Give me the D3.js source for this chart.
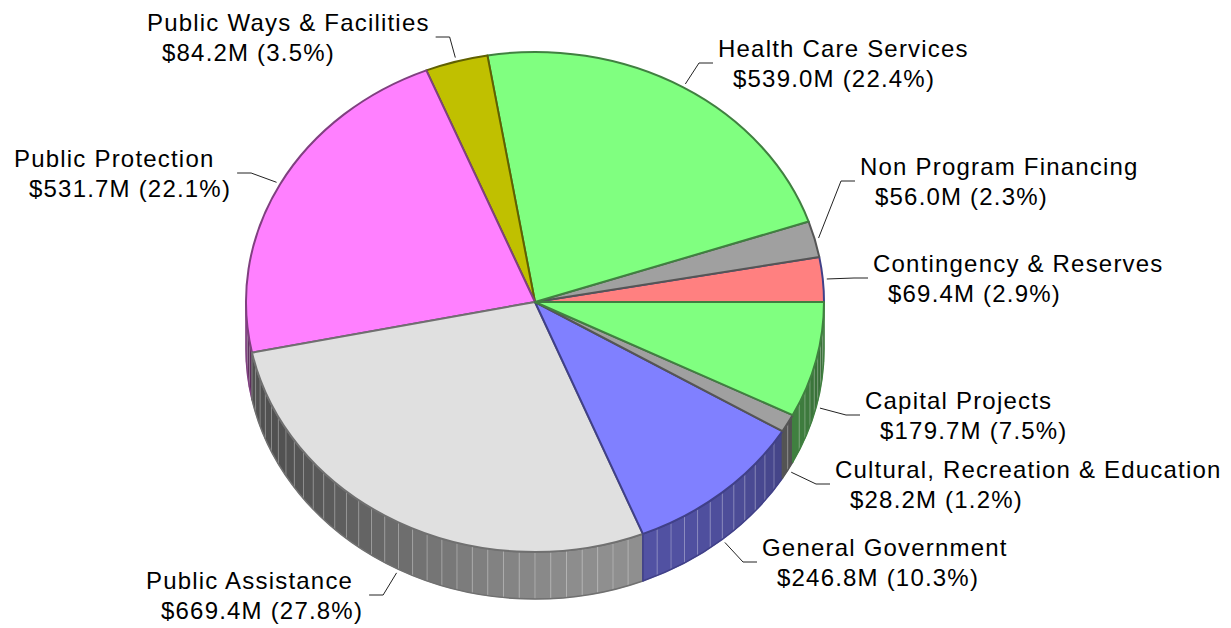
<!DOCTYPE html>
<html>
<head>
<meta charset="utf-8">
<title>budget pie</title>
<script src="https://cdn.jsdelivr.net/npm/d3@7/dist/d3.min.js"></script>
<style type="text/css">
    body {margin: 0; background: #fff;}
    text {font-family: "Liberation Sans", Arial, sans-serif; font-size: 24px; letter-spacing: 1.2px; fill: #000;}
    .leader {stroke: #222; stroke-width: 1; fill: none;}
</style>
</head>
<body>
<div id="container"></div>
<script type="text/javascript">
// slices go counter-clockwise, starting at 3 o'clock
const names = ["Contingency & Reserves", "Non Program Financing", "Health Care Services",
    "Public Ways & Facilities", "Public Protection", "Public Assistance",
    "General Government", "Cultural, Recreation & Education", "Capital Projects"];
const amounts = [69.4, 56.0, 539.0, 84.2, 531.7, 669.4, 246.8, 28.2, 179.7];   // $M
const fills = ["#ff8080", "#a0a0a0", "#80ff80", "#c0c000", "#ff80ff", "#e0e0e0", "#8080ff", "#a0a0a0", "#80ff80"];
const strokes = ["#404088", "#555555", "#408040", "#606000", "#804080", "#707070", "#404088", "#555555", "#408040"];

// label layout: left x / baseline of first line
const labelPos = [[873, 272], [860, 175], [718, 57], [147, 31], [14, 167],
    [146, 589], [762, 556], [835, 478], [865, 409]];

const w = 1231, h = 628;
const cx = 535, cy = 302, rx = 289, ry = 250, depth = 47;

const svg = d3.select('#container').append('svg')
    .attr('width', w)
    .attr('height', h);

const data = names.map((n, i) => ({name: n, v: amounts[i], fill: fills[i], stroke: strokes[i], pos: labelPos[i]}));
const total = d3.sum(amounts);
const arcs = d3.pie().sort(null).value(d => d.v).startAngle(0).endAngle(2 * Math.PI)(data);

const pt = (t, dy = 0) => [cx + rx * Math.cos(t), cy - ry * Math.sin(t) + dy];
const deg = Math.PI / 180;

function shade(col, t) {
    const c = Math.max(0, Math.cos(t - 290 * deg));
    const f = 0.36 + 0.28 * c * c;
    const r = d3.rgb(col);
    return d3.rgb(r.r * f, r.g * f, r.b * f).formatHex();
}

// side walls (front half only)
const sides = svg.append('g').attr('class', 'sides');
arcs.forEach(a => {
    const a0 = Math.max(a.startAngle, Math.PI), a1 = Math.min(a.endAngle, 2 * Math.PI);
    if (a1 <= a0) return;
    const g = sides.append('g');
    const n = Math.max(1, Math.ceil((a1 - a0) / (3.2 * deg)));
    const step = (a1 - a0) / n;
    for (let k = 0; k < n; k++) {
        const t0 = a0 + k * step, t1 = t0 + step;
        const p0 = pt(t0), p1 = pt(t1), q1 = pt(t1, depth), q0 = pt(t0, depth);
        g.append('path')
            .attr('d', `M${p0} A${rx},${ry} 0 0 0 ${p1} L${q1} A${rx},${ry} 0 0 1 ${q0} Z`)
            .attr('fill', shade(a.data.fill, (t0 + t1) / 2))
            .attr('stroke', shade(a.data.fill, (t0 + t1) / 2))
            .attr('stroke-width', 0.5);
        if (k > 0) {
            g.append('line')
                .attr('x1', p0[0]).attr('y1', p0[1])
                .attr('x2', q0[0]).attr('y2', q0[1])
                .attr('stroke', '#fff').attr('stroke-opacity', 0.3).attr('stroke-width', 1);
        }
    }
    const p0 = pt(a0), p1 = pt(a1), q1 = pt(a1, depth), q0 = pt(a0, depth);
    g.append('path')
        .attr('d', `M${p0} A${rx},${ry} 0 0 0 ${p1} L${q1} A${rx},${ry} 0 0 1 ${q0} Z`)
        .attr('fill', 'none')
        .attr('stroke', a.data.stroke)
        .attr('stroke-width', 1.5)
        .attr('stroke-linejoin', 'round');
});

// top faces
svg.append('g').attr('class', 'tops')
    .selectAll('path')
    .data(arcs)
    .join('path')
    .attr('d', a => {
        const large = (a.endAngle - a.startAngle) > Math.PI ? 1 : 0;
        return `M${cx},${cy} L${pt(a.startAngle)} A${rx},${ry} 0 ${large} 0 ${pt(a.endAngle)} Z`;
    })
    .attr('fill', a => a.data.fill)
    .attr('stroke', a => a.data.stroke)
    .attr('stroke-width', 2)
    .attr('stroke-linejoin', 'round');

// labels + leaders
const labels = svg.append('g').attr('class', 'labels');
arcs.forEach(a => {
    const d = a.data;
    const t = (a.startAngle + a.endAngle) / 2;
    const [x, y] = d.pos;
    const txt = labels.append('text').attr('x', x).attr('y', y);
    txt.append('tspan').attr('x', x).attr('y', y).text(d.name);
    txt.append('tspan').attr('x', x + 15).attr('y', y + 30)
        .text(`$${d.v.toFixed(1)}M (${(d.v / total * 100).toFixed(1)}%)`);

    const s = [cx + (rx + 4) * Math.cos(t), cy - (ry + 4) * Math.sin(t) + (Math.sin(t) < 0 ? depth : 0)];
    let hx, ex;
    const hy = y + 6;
    if (s[0] > cx) {
        hx = x - 5;
        ex = hx - 14;
    } else {
        const bb = txt.node().getBBox();
        hx = bb.x + bb.width + 6;
        ex = hx + 14;
    }
    labels.append('path')
        .attr('class', 'leader')
        .attr('d', `M${s} L${ex},${hy} L${hx},${hy}`);
});
</script>
</body>
</html>
